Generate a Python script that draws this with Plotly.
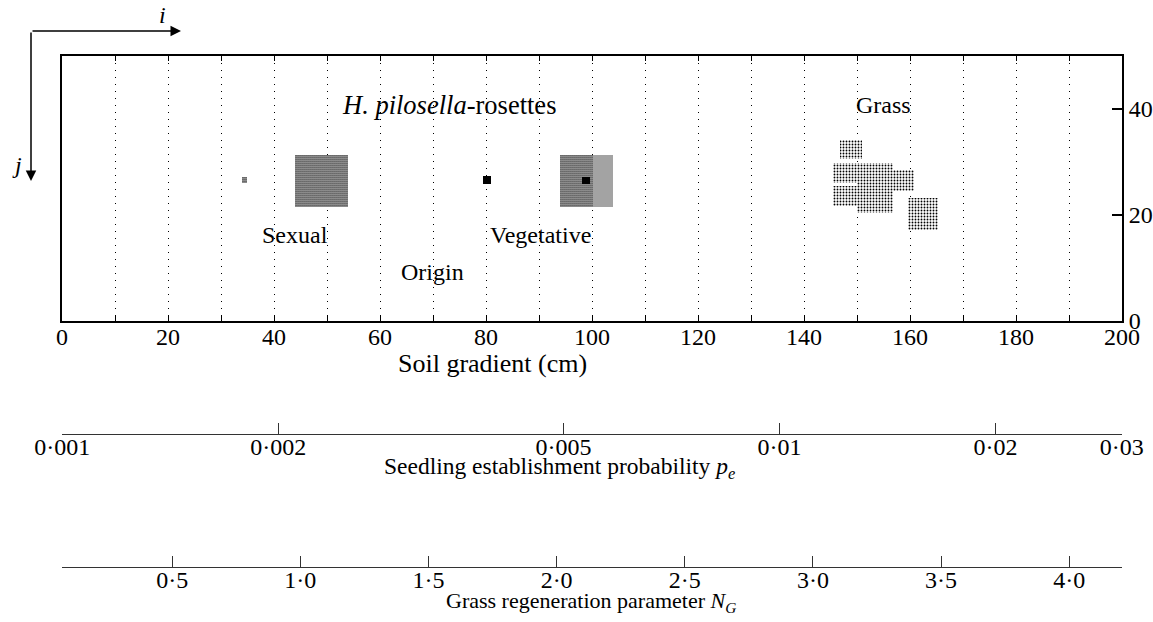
import plotly.graph_objects as go
import math

# ---------------- data ----------------
soil_ticks = [0, 20, 40, 60, 80, 100, 120, 140, 160, 180, 200]
soil_labels = ["0", "20", "40", "60", "80", "100", "120", "140", "160", "180", "200"]
j_ticks = [0, 20, 40]
j_labels = ["0", "20", "40"]

pe_ticks = [0.001, 0.002, 0.005, 0.01, 0.02, 0.03]
pe_labels = ["0·001", "0·002", "0·005", "0·01", "0·02", "0·03"]
pe_range = [0.001, 0.03]

ng_ticks = [0.5, 1.0, 1.5, 2.0, 2.5, 3.0, 3.5, 4.0]
ng_labels = ["0·5", "1·0", "1·5", "2·0", "2·5", "3·0", "3·5", "4·0"]
ng_range = [0.07, 4.206]

# rosette / grass patches (cm along i, cells along j)
sexual_x0 = [34.0, 44.0]
sexual_x1 = [34.9, 53.9]
sexual_y0 = [26.1, 21.5]
sexual_y1 = [27.1, 31.4]

veg_dark_x0 = [94.0]
veg_dark_x1 = [100.2]
veg_dark_y0 = [21.5]
veg_dark_y1 = [31.4]

veg_light_x0 = [100.2]
veg_light_x1 = [103.9]
veg_light_y0 = [21.5]
veg_light_y1 = [31.4]

black_x0 = [79.5, 98.2]
black_x1 = [80.9, 99.6]
black_y0 = [25.9, 25.8]
black_y1 = [27.3, 27.2]

grass_x0 = [146.8, 145.4, 145.4, 150.0, 150.0, 156.7, 159.7]
grass_x1 = [151.0, 150.4, 150.7, 156.7, 156.7, 160.8, 165.2]
grass_y0 = [30.5, 26.0, 21.7, 26.0, 20.3, 24.5, 17.2]
grass_y1 = [34.2, 29.9, 25.5, 29.9, 26.0, 28.4, 23.2]

FONT = "Liberation Serif"
FS = 24
W, H = 1153, 622
L, R = 62, 31


def px_x(p):
    return (p - L) / (W - L - R)


def px_y(p):
    return (H - p) / H


fig = go.Figure()


def add_squares(x0, x1, y0, y1, pattern=None, color="white"):
    marker = dict(color=color, line=dict(width=0))
    if pattern is not None:
        marker["pattern"] = pattern
    fig.add_trace(go.Bar(
        x=[(a + b) / 2 for a, b in zip(x0, x1)],
        width=[b - a for a, b in zip(x0, x1)],
        base=y0,
        y=[b - a for a, b in zip(y0, y1)],
        marker=marker, xaxis="x", yaxis="y",
        hoverinfo="skip", showlegend=False,
    ))


dense = dict(shape=".", fgcolor="black", bgcolor="white", size=2, solidity=0.6, fillmode="replace")
lighter = dict(shape=".", fgcolor="black", bgcolor="white", size=2, solidity=0.38, fillmode="replace")
sparse = dict(shape=".", fgcolor="black", bgcolor="white", size=3, solidity=0.3, fillmode="replace")

add_squares(sexual_x0, sexual_x1, sexual_y0, sexual_y1, dense)
add_squares(veg_dark_x0, veg_dark_x1, veg_dark_y0, veg_dark_y1, dense)
add_squares(veg_light_x0, veg_light_x1, veg_light_y0, veg_light_y1, lighter)
add_squares(grass_x0, grass_x1, grass_y0, grass_y1, sparse)
add_squares(black_x0, black_x1, black_y0, black_y1, None, color="black")

# empty traces so the extra axes render
fig.add_trace(go.Scatter(x=pe_range, y=[0, 0], xaxis="x2", yaxis="y2", mode="markers",
                         marker=dict(opacity=0), hoverinfo="skip", showlegend=False))
fig.add_trace(go.Scatter(x=ng_range, y=[0, 0], xaxis="x3", yaxis="y3", mode="markers",
                         marker=dict(opacity=0), hoverinfo="skip", showlegend=False))

tickfont = dict(family=FONT, size=FS, color="black")
dot = "1px,6px"

fig.update_layout(
    width=W, height=H, autosize=False,
    margin=dict(l=L, r=R, t=0, b=0, pad=0, autoexpand=False),
    paper_bgcolor="white", plot_bgcolor="white",
    barmode="overlay", bargap=0,
    font=dict(family=FONT, size=FS, color="black"),
    xaxis=dict(
        domain=[0, 1], anchor="y", range=[0, 200],
        tickmode="array", tickvals=soil_ticks, ticktext=soil_labels,
        ticks="inside", ticklen=5, tickcolor="black", tickwidth=1,
        showline=True, linecolor="black", linewidth=2, mirror="allticks",
        showgrid=True, gridcolor="black", gridwidth=1, griddash=dot,
        minor=dict(tickmode="linear", tick0=0, dtick=10, showgrid=True, gridcolor="black",
                   gridwidth=1, griddash=dot, ticks="inside", ticklen=5, tickcolor="black"),
        zeroline=False, tickfont=tickfont, fixedrange=True, automargin=False,
        ticklabelstandoff=-7,
    ),
    yaxis=dict(
        domain=[px_y(321), px_y(56)], anchor="x", range=[0, 50], side="right",
        tickmode="array", tickvals=j_ticks, ticktext=j_labels,
        ticks="inside", ticklen=10, tickcolor="black", tickwidth=1.5,
        showline=True, linecolor="black", linewidth=2, mirror=True,
        showgrid=False, zeroline=False, tickfont=tickfont, fixedrange=True, automargin=False,
    ),
    xaxis2=dict(
        domain=[0, 1], anchor="y2", type="log",
        range=[math.log10(pe_range[0]) - 0.0004, math.log10(pe_range[1]) + 0.0004],
        tickmode="array", tickvals=pe_ticks, ticktext=pe_labels,
        ticks="inside", ticklen=11, tickcolor="#333", tickwidth=1.2,
        showline=True, linecolor="#333", linewidth=1.3,
        showgrid=False, zeroline=False, tickfont=tickfont, fixedrange=True, automargin=False,
        ticklabelstandoff=-9,
    ),
    yaxis2=dict(domain=[px_y(434), px_y(434) + 0.01], anchor="x2", visible=False, range=[0, 1]),
    xaxis3=dict(
        domain=[0, 1], anchor="y3", range=ng_range,
        tickmode="array", tickvals=ng_ticks, ticktext=ng_labels,
        ticks="inside", ticklen=11, tickcolor="#333", tickwidth=1.2,
        showline=True, linecolor="#333", linewidth=1.3,
        showgrid=False, zeroline=False, tickfont=tickfont, fixedrange=True, automargin=False,
        ticklabelstandoff=-9,
    ),
    yaxis3=dict(domain=[px_y(567), px_y(567) + 0.01], anchor="x3", visible=False, range=[0, 1]),
)

ann = []


def text_data(t, x, y, size=FS):
    ann.append(dict(text=t, x=x, y=y, xref="x", yref="y", showarrow=False,
                    font=dict(family=FONT, size=size, color="black"), xanchor="center", yanchor="middle"))


def text_px(t, px, py, size=FS):
    ann.append(dict(text=t, x=px_x(px), y=px_y(py), xref="paper", yref="paper", showarrow=False,
                    font=dict(family=FONT, size=size, color="black"), xanchor="center", yanchor="middle"))


text_data("<i>H. pilosella</i>-rosettes", 73, 40.7, 26.5)
text_data("Grass", 155, 40.7, 24)
text_data("Sexual", 44, 16.2, 24)
text_data("Vegetative", 90.2, 16.2, 24)
text_data("Origin", 69.9, 9.3, 24)

text_px("Soil gradient (cm)", 492, 363, 26)
text_px("Seedling establishment probability <i>p</i><sub><i>e</i></sub>", 559, 468, 23.5)
text_px("Grass regeneration parameter <i>N</i><sub><i>G</i></sub>", 591, 602, 22)

text_px("<i>i</i>", 162, 15, 24)
text_px("<i>j</i>", 17, 165, 24)

# direction arrows
ann.append(dict(text="", x=px_x(181), y=px_y(31), xref="paper", yref="paper",
                showarrow=True, ax=-150, ay=0, arrowhead=2, arrowsize=1.4, arrowwidth=1.5,
                arrowcolor="black"))
ann.append(dict(text="", x=px_x(31), y=px_y(181), xref="paper", yref="paper",
                showarrow=True, ax=0, ay=-150, arrowhead=2, arrowsize=1.4, arrowwidth=1.5,
                arrowcolor="black"))

fig.update_layout(annotations=ann)

fig.write_html("out.html")
